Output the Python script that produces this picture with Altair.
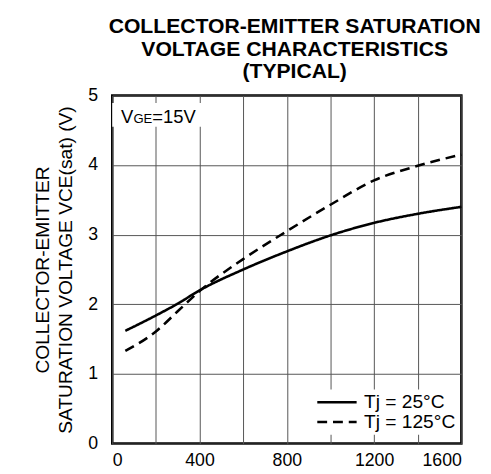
import altair as alt
import pandas as pd

# Collector current (x) and saturation voltage (y)
x_25 = [60, 200, 300, 400, 600, 800, 1000, 1200, 1400, 1600]
y_25 = [1.62, 1.84, 2.01, 2.2, 2.5, 2.76, 2.99, 3.17, 3.30, 3.40]
x_125 = [60, 200, 300, 400, 600, 800, 1000, 1200, 1400, 1600]
y_125 = [1.33, 1.61, 1.90, 2.19, 2.65, 3.05, 3.43, 3.78, 3.99, 4.15]
series_names = ["Tj = 25°C", "Tj = 125°C"]
x_grid = [0, 200, 400, 600, 800, 1000, 1200, 1400, 1600]
y_grid = [0, 0.5, 1, 1.5, 2, 2.5, 3, 3.5, 4, 4.5, 5]

FONT = "Liberation Sans"

rows = []
for xv, yv in zip(x_25, y_25):
    rows.append({"ic": xv, "v": yv, "s": series_names[0]})
for xv, yv in zip(x_125, y_125):
    rows.append({"ic": xv, "v": yv, "s": series_names[1]})
df = pd.DataFrame(rows)

xs = alt.Scale(domain=[0, 1600], nice=False)
ys = alt.Scale(domain=[0, 5], nice=False)

lines = alt.Chart(df).mark_line(color="black", strokeWidth=2.6,
                                interpolate="monotone").encode(
    x=alt.X("ic:Q", scale=xs,
            axis=alt.Axis(values=x_grid, format="d",
                          labelExpr="datum.value % 400 == 0 ? datum.label : ''",
                          title=None, ticks=False, domain=False,
                          labelFontSize=18, labelFont=FONT, labelColor="black",
                          labelPadding=8, grid=True, gridColor="#555", gridWidth=1)),
    y=alt.Y("v:Q", scale=ys,
            axis=alt.Axis(values=y_grid, format="d",
                          labelExpr="datum.value % 1 == 0 ? datum.label : ''",
                          title=["COLLECTOR-EMITTER", "SATURATION VOLTAGE VCE(sat) (V)"],
                          titleFont=FONT, titleFontSize=19.5, titleFontWeight="normal",
                          titleColor="black", titlePadding=12, titleLineHeight=24,
                          ticks=False, domain=False,
                          labelFontSize=18, labelFont=FONT, labelColor="black",
                          labelPadding=15, grid=True, gridColor="#555", gridWidth=1)),
    strokeDash=alt.StrokeDash("s:N",
        scale=alt.Scale(domain=series_names, range=[[1, 0], [10, 6]]),
        legend=alt.Legend(title=None, orient="none", legendX=204, legendY=299,
                          fillColor="white",
                          symbolType="stroke", symbolSize=1600, symbolStrokeWidth=2.5,
                          symbolStrokeColor="black", clipHeight=20,
                          labelFont=FONT, labelFontSize=19.5, labelColor="black",
                          labelOffset=6, padding=3, rowPadding=0)),
    detail="s:N",
)

ann_box = pd.DataFrame({"x0": [0], "x1": [455], "y0": [4.55], "y1": [4.89]})
box = alt.Chart(ann_box).mark_rect(fill="white").encode(
    x=alt.X("x0:Q", scale=xs), x2="x1:Q",
    y=alt.Y("y0:Q", scale=ys), y2="y1:Q")

# "VGE=15V" with the GE in smaller letters
ann_txt = pd.DataFrame({"x": [40.6], "y": [4.61]})
base = alt.Chart(ann_txt).encode(x=alt.X("x:Q", scale=xs), y=alt.Y("y:Q", scale=ys))
t_v = base.mark_text(align="left", baseline="alphabetic", font=FONT,
                     fontSize=18.7, color="black", text="V")
t_ge = base.mark_text(align="left", baseline="alphabetic", font=FONT,
                      fontSize=13.3, color="black", text="GE", dx=12.5)
t_rest = base.mark_text(align="left", baseline="alphabetic", font=FONT,
                        fontSize=18.7, color="black", text="=15V", dx=31.7)

chart = alt.layer(box, lines, t_v, t_ge, t_rest).properties(
    width=355, height=354,
    title=alt.TitleParams(
        ["COLLECTOR-EMITTER SATURATION", "VOLTAGE CHARACTERISTICS", "(TYPICAL)"],
        font=FONT, fontSize=21.5, fontWeight="bold", color="black",
        anchor="middle", dx=8, offset=4, lineHeight=23),
    autosize=alt.AutoSizeParams(type="none"),
    padding={"left": 106, "top": 85, "right": 22, "bottom": 27},
).configure_view(stroke="black", strokeWidth=2.5)

chart.save("out.html", embed_options={"renderer": "svg", "actions": False})
